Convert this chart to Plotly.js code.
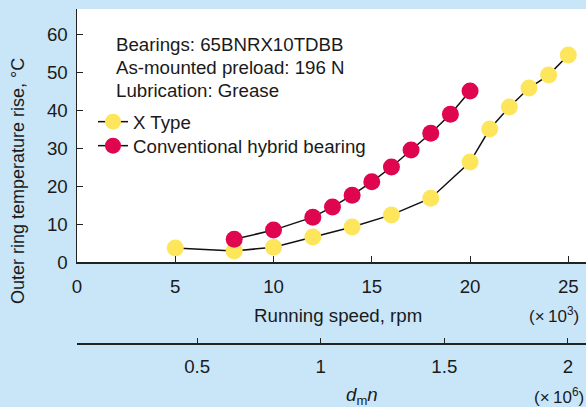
<!DOCTYPE html>
<html><head><meta charset="utf-8">
<script src="https://cdn.plot.ly/plotly-3.0.1.min.js"></script>
<style>html,body{margin:0;padding:0;background:#c9e6f9;}#chart{width:586px;height:407px;}</style>
</head><body><div id="chart"></div>
<script>
// Running speed (x10^3 rpm) and outer-ring temperature rise (°C)
const xTypeSpeed = [5, 8, 10, 12, 14, 16, 18, 20, 21, 22, 23, 24, 25];
const xTypeTemp  = [3.7, 2.9, 3.9, 6.6, 9.2, 12.4, 16.8, 26.3, 35.0, 40.8, 45.8, 49.2, 54.5];
const hybridSpeed = [8, 10, 12, 13, 14, 15, 16, 17, 18, 19, 20];
const hybridTemp  = [6.0, 8.4, 11.8, 14.5, 17.6, 21.1, 25.0, 29.5, 33.9, 38.9, 45.0];
const speedTicks = [0, 5, 10, 15, 20, 25];
const tempTicks = [0, 10, 20, 30, 40, 50, 60];
const dmnTicks = [0.5, 1, 1.5, 2];
const dmnTickText = ['0.5', '1', '1.5', '2'];
const infoLines = ['Bearings: 65BNRX10TDBB', 'As-mounted preload: 196 N', 'Lubrication: Grease'];
const seriesNames = ['X Type', 'Conventional hybrid bearing'];

const W = 586, H = 407, L = 77, T = 9;
const px = v => (v - L) / (W - L);
const py = v => (H - v) / (H - T);
const FONT = 'Liberation Sans, Arial, sans-serif';
const BG = '#c9e6f9';
const FS = 18.7;

const traces = [
  {x: xTypeSpeed, y: xTypeTemp, name: seriesNames[0], type: 'scatter', mode: 'lines+markers',
   line: {color: '#111', width: 1.5}, marker: {size: 17, color: '#fde65c'}, legend: 'legend'},
  {x: hybridSpeed, y: hybridTemp, name: seriesNames[1], type: 'scatter', mode: 'lines+markers',
   line: {color: '#111', width: 1.5}, marker: {size: 17, color: '#e0054f'}, legend: 'legend2'},
  {x: [], y: [], xaxis: 'x2', yaxis: 'y', type: 'scatter', mode: 'markers', showlegend: false, hoverinfo: 'skip'}
];

const axisCommon = {ticks: 'inside', tickcolor: '#222', showline: true, linecolor: '#222', linewidth: 1.5,
                    showgrid: false, zeroline: false, fixedrange: true};

const annotations = infoLines.map((t, i) => ({
  xref: 'paper', yref: 'paper', x: px(114), y: py(44.5 + i * 23), xanchor: 'left', yanchor: 'middle',
  showarrow: false, text: t, font: {size: FS}
}));
annotations.push(
  {xref: 'paper', yref: 'paper', x: px(18), y: py(181), xanchor: 'center', yanchor: 'middle', textangle: -90,
   showarrow: false, text: 'Outer ring temperature rise, °C', font: {size: 18}},
  {xref: 'paper', yref: 'paper', x: px(337.5), y: py(315), xanchor: 'center', yanchor: 'middle', showarrow: false,
   text: 'Running speed, rpm', font: {size: FS}},
  {xref: 'paper', yref: 'paper', x: px(527), y: py(315), xanchor: 'left', yanchor: 'middle', showarrow: false,
   text: '(×&#8201;10<sup>3</sup>)', font: {size: 17}},
  {xref: 'paper', yref: 'paper', x: px(362), y: py(396), xanchor: 'center', yanchor: 'middle', showarrow: false,
   text: '<i>d</i><sub>m</sub><i>n</i>', font: {size: FS}},
  {xref: 'paper', yref: 'paper', x: px(532), y: py(396), xanchor: 'left', yanchor: 'middle', showarrow: false,
   text: '(×&#8201;10<sup>6</sup>)', font: {size: 17}}
);

const legendCommon = {xanchor: 'left', yanchor: 'top', bgcolor: 'rgba(0,0,0,0)', font: {size: FS}};

const layout = {
  width: W, height: H,
  margin: {l: L, r: 0, t: T, b: 0},
  paper_bgcolor: BG, plot_bgcolor: '#ffffff',
  font: {family: FONT, size: FS, color: '#1a1a1a'},
  showlegend: true,
  legend: Object.assign({x: px(93), y: py(103)}, legendCommon),
  legend2: Object.assign({x: px(93), y: py(127)}, legendCommon),
  xaxis: Object.assign({range: [0, 25.9], domain: [0, 1], tickvals: speedTicks, ticklen: 6,
          ticklabelstandoff: 7}, axisCommon),
  yaxis: Object.assign({range: [0, 66.6], domain: [py(262), 1], tickvals: tempTicks, ticklen: 6,
          ticklabelstandoff: 4}, axisCommon),
  xaxis2: Object.assign({overlaying: 'x', anchor: 'free', position: py(343), side: 'bottom',
           range: [0.014, 2.073], tickvals: dmnTicks, ticktext: dmnTickText, ticklen: 5,
           ticklabelstandoff: 6}, axisCommon),
  annotations: annotations
};

Plotly.newPlot('chart', traces, layout, {displayModeBar: false, staticPlot: true});
</script></body></html>
